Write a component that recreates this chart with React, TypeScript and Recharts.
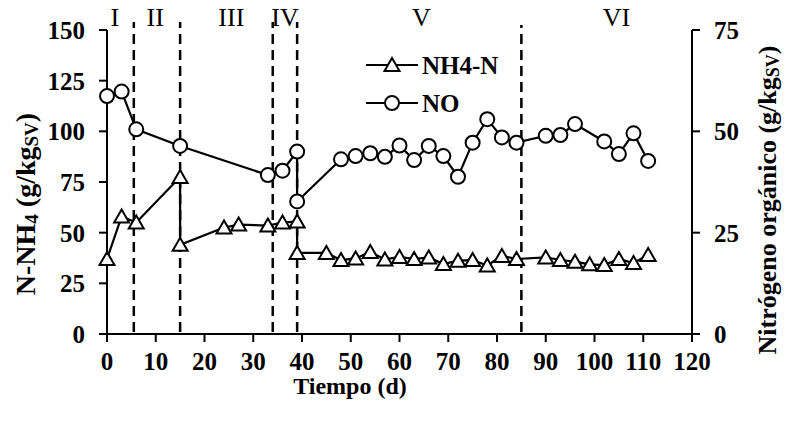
import React from 'react';
import {
  LineChart,
  Line,
  XAxis,
  YAxis,
  ReferenceLine,
  ReferenceDot,
  Legend,
} from 'recharts';

// N-NH4 (left axis, g/kgSV)
const nh4Days = [0, 3, 6, 15, 15, 24, 27, 33, 36, 39, 39, 45, 48, 51, 54, 57, 60, 63, 66, 69, 72, 75, 78, 81, 84, 90, 93, 96, 99, 102, 105, 108, 111];
const nh4Values = [37, 58, 55, 77.5, 44, 52.5, 54, 53.5, 55, 55.5, 40, 40, 36.5, 37.3, 40.5, 36.8, 38, 37, 37.8, 34.5, 36.2, 36.5, 33.8, 38.5, 37, 37.8, 36.5, 35.7, 34.4, 34, 37, 35, 39];

// Nitrógeno orgánico (right axis, g/kgSV)
const noDays = [0, 3, 6, 15, 33, 36, 39, 39, 48, 51, 54, 57, 60, 63, 66, 69, 72, 75, 78, 81, 84, 90, 93, 96, 102, 105, 108, 111];
const noValues = [58.7, 59.8, 50.5, 46.4, 39.2, 40.3, 45, 32.7, 43.1, 43.9, 44.6, 43.7, 46.5, 42.9, 46.4, 43.9, 38.8, 47.2, 53, 48.5, 47.2, 48.9, 49.1, 51.8, 47.5, 44.4, 49.5, 42.7];

// operating stages: boundaries and label anchors
const stageBounds = [5.5, 15, 34, 39, 85];
const stageNames = ['I', 'II', 'III', 'IV', 'V', 'VI'];
const stageLabelDays = [1.6, 9.9, 25.5, 36.5, 64.5, 104.5];

const xTicks = [0, 10, 20, 30, 40, 50, 60, 70, 80, 90, 100, 110, 120];
const leftTicks = [0, 25, 50, 75, 100, 125, 150];
const rightTicks = [0, 25, 50, 75];

const nh4Data = nh4Days.map((d, i) => ({ day: d, nh4: nh4Values[i] }));
const noData = noDays.map((d, i) => ({ day: d, no: noValues[i] }));

const FONT = '"Liberation Serif", "Times New Roman", serif';
const tickStyle = { fontFamily: FONT, fontSize: 25, fontWeight: 'bold', fill: '#000' };

const Triangle = (props: any) => {
  const { cx, cy, index } = props;
  if (cx == null || cy == null) return <g key={`t-${index}`} />;
  return (
    <path
      key={`t-${index}`}
      d={`M${cx},${cy - 7} L${cx + 7.5},${cy + 6} L${cx - 7.5},${cy + 6} Z`}
      fill="#fff"
      stroke="#000"
      strokeWidth={2}
    />
  );
};

const Circle = (props: any) => {
  const { cx, cy, index } = props;
  if (cx == null || cy == null) return <g key={`c-${index}`} />;
  return <circle key={`c-${index}`} cx={cx} cy={cy} r={7} fill="#fff" stroke="#000" strokeWidth={2} />;
};

const XTitle = () => (
  <text
    x={350}
    y={386}
    textAnchor="middle"
    dominantBaseline="central"
    fontFamily={FONT}
    fontSize={24}
    fontWeight="bold"
    fill="#000"
  >
    Tiempo (d)
  </text>
);

const LeftTitle = () => (
  <text
    x={25}
    y={204}
    transform="rotate(-90, 25, 204)"
    textAnchor="middle"
    dominantBaseline="central"
    fontFamily={FONT}
    fontSize={28}
    fontWeight="bold"
    fill="#000"
  >
    N-NH
    <tspan dy={6} fontSize={19}>4</tspan>
    <tspan dy={-6}> (g/kg</tspan>
    <tspan dy={6} fontSize={19}>SV</tspan>
    <tspan dy={-6}>)</tspan>
  </text>
);

const RightTitle = () => (
  <text
    x={767}
    y={200}
    transform="rotate(-90, 767, 200)"
    textAnchor="middle"
    dominantBaseline="central"
    fontFamily={FONT}
    fontSize={26}
    fontWeight="bold"
    fill="#000"
  >
    Nitrógeno orgánico (g/kg
    <tspan dy={6} fontSize={18}>SV</tspan>
    <tspan dy={-6}>)</tspan>
  </text>
);

const LegendBox = () => (
  <div style={{ fontFamily: FONT, fontWeight: 'bold', fontSize: 25, color: '#000' }}>
    {[
      { name: 'NH4-N', marker: 'tri' },
      { name: 'NO', marker: 'circ' },
    ].map((item) => (
      <div key={item.name} style={{ display: 'flex', alignItems: 'center', height: 38 }}>
        <svg width={56} height={30}>
          <line x1={0} y1={15} x2={52} y2={15} stroke="#000" strokeWidth={2} />
          {item.marker === 'tri' ? (
            <path d="M26,8 L33.5,21 L18.5,21 Z" fill="#fff" stroke="#000" strokeWidth={2} />
          ) : (
            <circle cx={26} cy={15} r={7} fill="#fff" stroke="#000" strokeWidth={2} />
          )}
        </svg>
        <span style={{ lineHeight: 1 }}>{item.name}</span>
      </div>
    ))}
  </div>
);

export default function App() {
  return (
    <div style={{ width: 787, height: 421, background: '#fff' }}>
      <style>{'body{margin:0}'}</style>
      <LineChart
        width={787}
        height={421}
        margin={{ top: 30, right: 35, left: 47, bottom: 47 }}
        style={{ overflow: 'visible' }}
      >
        <XAxis
          dataKey="day"
          type="number"
          domain={[0, 120]}
          ticks={xTicks}
          interval={0}
          allowDuplicatedCategory={false}
          stroke="#000"
          strokeWidth={2}
          tickSize={8}
          tickMargin={10}
          tick={tickStyle}
          height={40}
          label={{ content: XTitle }}
        />
        <YAxis
          yAxisId="left"
          domain={[0, 150]}
          ticks={leftTicks}
          interval={0}
          stroke="#000"
          strokeWidth={2}
          tickSize={8}
          tickMargin={14}
          tick={tickStyle}
          width={60}
          label={{ content: LeftTitle }}
        />
        <YAxis
          yAxisId="right"
          orientation="right"
          domain={[0, 75]}
          ticks={rightTicks}
          interval={0}
          stroke="#000"
          strokeWidth={2}
          tickSize={8}
          tickMargin={14}
          tick={{ ...tickStyle, textAnchor: 'start' }}
          width={60}
          label={{ content: RightTitle }}
        />
        {stageBounds.map((b) => (
          <ReferenceLine
            key={`b-${b}`}
            yAxisId="left"
            segment={[{ x: b, y: 1 }, { x: b, y: b > 80 ? 152.5 : 154 }]}
            ifOverflow="visible"
            stroke="#000"
            strokeWidth={2.5}
            strokeDasharray="10 6"
          />
        ))}
        {stageNames.map((s, i) => (
          <ReferenceDot
            key={`s-${s}`}
            yAxisId="left"
            x={stageLabelDays[i]}
            y={156.5}
            r={0.1}
            fill="none"
            stroke="none"
            ifOverflow="visible"
            label={{
              value: s,
              position: 'center',
              style: { fontFamily: FONT, fontSize: 26, fill: '#000' },
            }}
          />
        ))}
        <Line
          yAxisId="left"
          data={nh4Data}
          dataKey="nh4"
          name="NH4-N"
          stroke="#000"
          strokeWidth={2.2}
          dot={Triangle}
          activeDot={false}
          isAnimationActive={false}
        />
        <Line
          yAxisId="right"
          data={noData}
          dataKey="no"
          name="NO"
          stroke="#000"
          strokeWidth={2.2}
          dot={Circle}
          activeDot={false}
          isAnimationActive={false}
        />
        <Legend
          layout="vertical"
          align="center"
          verticalAlign="middle"
          content={LegendBox}
          wrapperStyle={{ left: 366, top: 46, width: 'auto' }}
        />
      </LineChart>
    </div>
  );
}
